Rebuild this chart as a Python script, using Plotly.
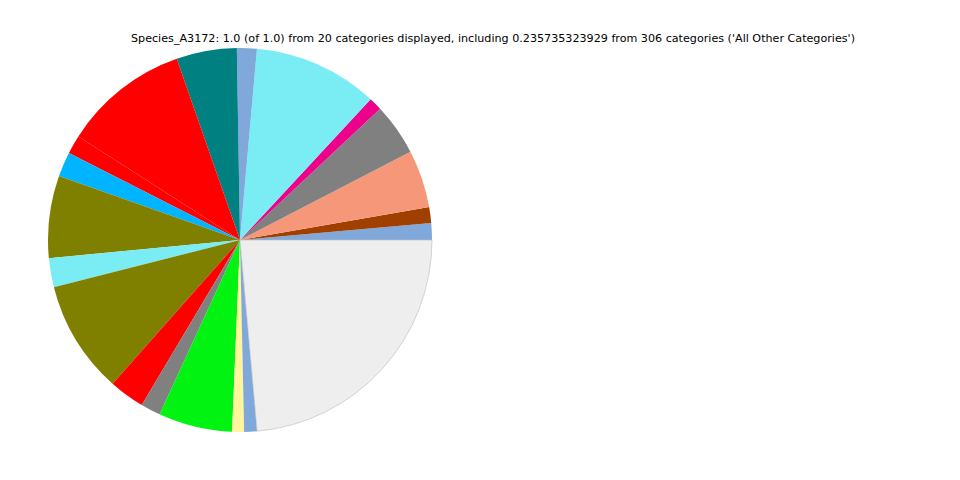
import plotly.graph_objects as go

categories = [
    "Cat_01", "Cat_02", "Cat_03", "Cat_04", "Cat_05", "Cat_06", "Cat_07",
    "Cat_08", "Cat_09", "Cat_10", "Cat_11", "Cat_12", "Cat_13", "Cat_14",
    "Cat_15", "Cat_16", "Cat_17", "Cat_18", "Cat_19", "All Other Categories",
]
values = [
    0.0141, 0.0133, 0.0487, 0.0437, 0.0111, 0.1050, 0.0167,
    0.0508, 0.1058, 0.0158, 0.0208, 0.0692, 0.0244, 0.0950,
    0.0300, 0.0167, 0.0622, 0.0100, 0.0108, 0.235735323929,
]
colors = [
    "#80A8DA", "#A04000", "#F7977A", "#808080", "#EC008C", "#7AECF4", "#80A8DA",
    "#008080", "#FF0000", "#FF0000", "#00B4FF", "#808000", "#7AECF4", "#808000",
    "#FF0000", "#808080", "#00F311", "#FFF59A", "#80A8DA", "#EEEEEE",
]
line_colors = ["rgba(0,0,0,0)"] * 19 + ["#BBBBBB"]
line_widths = [0] * 19 + [0.6]

title_text = ("Species_A3172: 1.0 (of 1.0) from 20 categories displayed, including "
              "0.235735323929 from 306 categories ('All Other Categories')")

# plotly's counterclockwise pie ends the first slice at the rotation angle;
# shift so the first slice starts at 3 o'clock like matplotlib
rotation = 90 - 360 * values[0] / sum(values)

fig = go.Figure(go.Pie(
    labels=categories,
    values=values,
    sort=False,
    direction="counterclockwise",
    rotation=rotation,
    textinfo="none",
    marker=dict(colors=colors, line=dict(color=line_colors, width=line_widths)),
    domain=dict(x=[40 / 960, 424 / 960], y=[56 / 480, 440 / 480]),
    showlegend=False,
))

fig.update_layout(
    width=960, height=480,
    margin=dict(l=0, r=0, t=0, b=0),
    paper_bgcolor="white",
    plot_bgcolor="white",
    annotations=[dict(
        text=title_text, x=485 / 960, y=1 - 31 / 480, xref="paper", yref="paper",
        xanchor="center", yanchor="middle", showarrow=False,
        font=dict(family="DejaVu Sans", size=11.15, color="black"),
    )],
)

fig.write_html("out.html")
